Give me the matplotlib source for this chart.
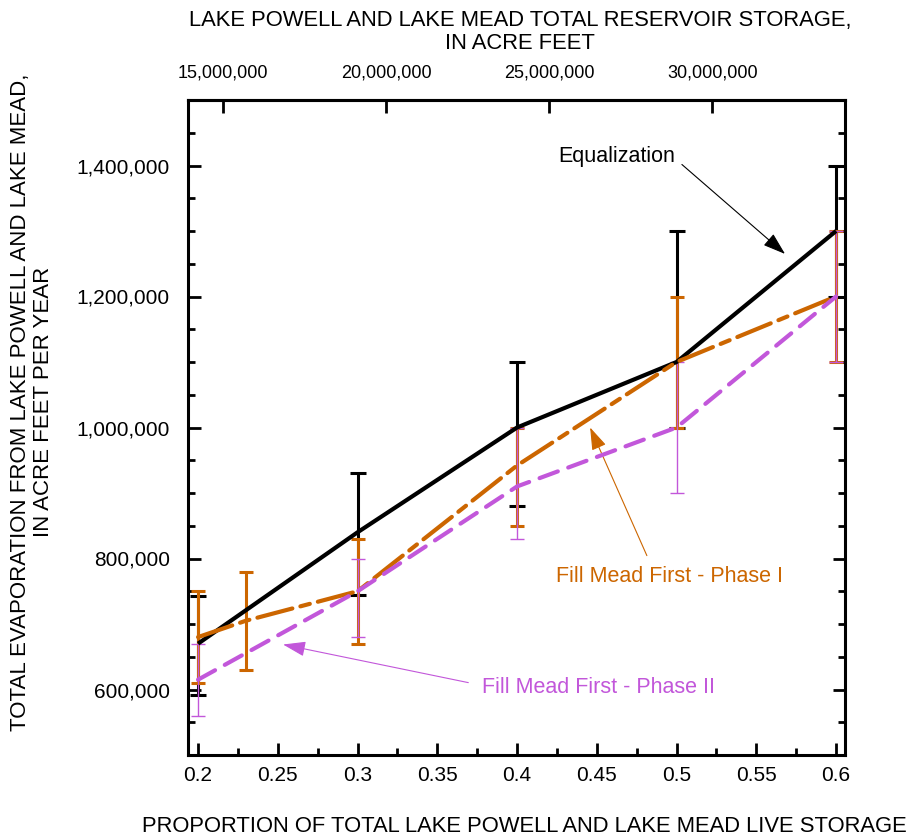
import matplotlib
matplotlib.use('Agg')
import matplotlib.pyplot as plt
from matplotlib.ticker import MultipleLocator, FuncFormatter

plt.rcParams['font.family'] = ['Liberation Sans', 'DejaVu Sans']
plt.rcParams['lines.scale_dashes'] = False

# Equalization
x_eq = [0.2, 0.3, 0.4, 0.5, 0.6]
evap_eq = [670000, 840000, 1000000, 1100000, 1300000]
eq_low = [592000, 745000, 880000, 1000000, 1200000]
eq_high = [742000, 930000, 1100000, 1300000, 1400000]

# Fill Mead First - Phase I
x_p1 = [0.2, 0.23, 0.3, 0.4, 0.5, 0.6]
evap_p1 = [680000, 705000, 750000, 942000, 1100000, 1200000]
p1_low = [610000, 630000, 670000, 850000, 1000000, 1100000]
p1_high = [750000, 780000, 830000, 1000000, 1200000, 1300000]

# Fill Mead First - Phase II
x_p2 = [0.2, 0.3, 0.4, 0.5, 0.6]
evap_p2 = [615000, 750000, 910000, 1000000, 1200000]
p2_low = [560000, 680000, 830000, 900000, 1100000]
p2_high = [670000, 800000, 1000000, 1100000, 1300000]

# top axis: storage = offset + proportion * live storage
storage_offset = 4.45e6
live_storage = 48.9e6
top_ticks = [15e6, 20e6, 25e6, 30e6]

black = 'black'
orange = '#CC6600'
magenta = '#C257DA'
tick_fs = 15
title_fs = 15.8
note_fs = 15.5


def yerr(vals, low, high):
    return [[v - lo for v, lo in zip(vals, low)], [hi - v for v, hi in zip(vals, high)]]


fig = plt.figure(figsize=(9.12, 8.4), dpi=100)
ax = fig.add_axes([188 / 912, 1 - 755 / 840, (845 - 188) / 912, (755 - 100) / 840])

# error bars first
ax.errorbar(x_eq, evap_eq, yerr=yerr(evap_eq, eq_low, eq_high), fmt='none',
            ecolor=black, elinewidth=2.2, capsize=5.5, capthick=2.2, zorder=2)
ax.errorbar(x_p1, evap_p1, yerr=yerr(evap_p1, p1_low, p1_high), fmt='none',
            ecolor=orange, elinewidth=2.2, capsize=5, capthick=2.2, zorder=2.1)
ax.errorbar(x_p2, evap_p2, yerr=yerr(evap_p2, p2_low, p2_high), fmt='none',
            ecolor=magenta, elinewidth=1, capsize=5, capthick=1, zorder=2.2)

# lines
ax.plot(x_eq, evap_eq, color=black, lw=3, zorder=3, solid_capstyle='butt')
ax.plot(x_p1, evap_p1, color=orange, lw=3, dashes=(26, 6, 7, 6), zorder=3.1,
        dash_capstyle='round')
ax.plot(x_p2, evap_p2, color=magenta, lw=3, dashes=(14, 8), zorder=3.2,
        dash_capstyle='round')

ax.set_xlim(0.1937, 0.6056)
ax.set_ylim(500000, 1500000)

ax.xaxis.set_major_locator(MultipleLocator(0.05))
ax.xaxis.set_minor_locator(MultipleLocator(0.025))
ax.yaxis.set_major_locator(MultipleLocator(200000))
ax.yaxis.set_minor_locator(MultipleLocator(50000))
ax.xaxis.set_major_formatter(FuncFormatter(lambda v, p: f'{v:g}'))
ax.yaxis.set_major_formatter(FuncFormatter(lambda v, p: f'{v:,.0f}'))

ax.tick_params(which='both', direction='in', right=True, top=False, width=2, labelsize=tick_fs)
ax.tick_params(which='major', length=9)
ax.tick_params(which='minor', length=5)
ax.tick_params(axis='x', pad=8)
ax.tick_params(axis='y', pad=13)
for s in ax.spines.values():
    s.set_linewidth(2.2)

secax = ax.secondary_xaxis('top', functions=(lambda v: storage_offset + v * live_storage,
                                             lambda s: (s - storage_offset) / live_storage))
secax.set_xticks(top_ticks)
secax.xaxis.set_major_formatter(FuncFormatter(lambda v, p: f'{v:,.0f}'))
secax.tick_params(direction='in', length=9, width=2, labelsize=13, pad=13)
secax.spines['top'].set_linewidth(2.2)

# annotations
ax.annotate('Equalization', xy=(0.568, 1265000), xytext=(0.4257, 1414000),
            fontsize=note_fs, color=black, ha='left', va='center',
            arrowprops=dict(arrowstyle='-|>,head_length=0.9,head_width=0.3', color=black,
                            lw=0.8, relpos=(1, 0.4), shrinkA=4, shrinkB=0))
ax.annotate('Fill Mead First - Phase I', xy=(0.4458, 1000000), xytext=(0.4245, 772500),
            fontsize=note_fs, color=orange, ha='left', va='center',
            arrowprops=dict(arrowstyle='-|>,head_length=0.9,head_width=0.3', color=orange,
                            lw=0.8, relpos=(0.42, 1), shrinkA=6, shrinkB=0))
ax.annotate('Fill Mead First - Phase II', xy=(0.2533, 668700), xytext=(0.378, 603000),
            fontsize=note_fs, color=magenta, ha='left', va='center',
            arrowprops=dict(arrowstyle='-|>,head_length=0.9,head_width=0.3', color=magenta,
                            lw=0.8, relpos=(0, 0.6), shrinkA=8, shrinkB=0))

# axis titles
fig.text(524 / 912, 1 - 826 / 840, 'PROPORTION OF TOTAL LAKE POWELL AND LAKE MEAD LIVE STORAGE',
         ha='center', va='center', fontsize=title_fs)
fig.text(520 / 912, 1 - 32 / 840, 'LAKE POWELL AND LAKE MEAD TOTAL RESERVOIR STORAGE,\nIN ACRE FEET',
         ha='center', va='center', fontsize=title_fs, linespacing=1.1)
fig.text(32 / 912, 1 - 402 / 840, 'TOTAL EVAPORATION FROM LAKE POWELL AND LAKE MEAD,\nIN ACRE FEET PER YEAR',
         ha='center', va='center', fontsize=16, rotation=90, linespacing=1.1)

fig.savefig('out.png', dpi=100)
